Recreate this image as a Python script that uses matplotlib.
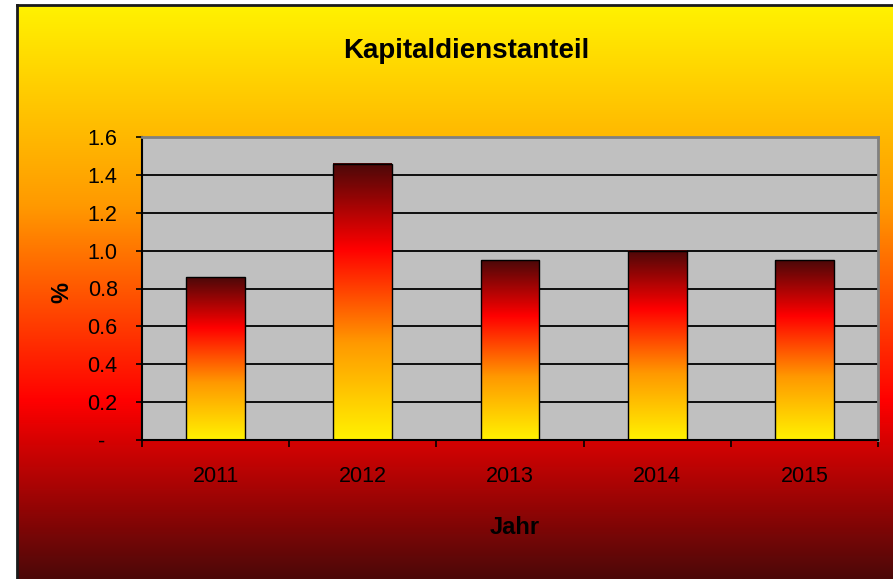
import numpy as np
import matplotlib
matplotlib.use("Agg")
import matplotlib.pyplot as plt
from matplotlib import font_manager
from matplotlib.colors import LinearSegmentedColormap
from matplotlib.ticker import FixedLocator

# ── Datos ────────────────────────────────────────────────────────────────────
years = ["2011", "2012", "2013", "2014", "2015"]
values = [0.86, 1.46, 0.95, 1.00, 0.95]
y_ticks = [0.0, 0.2, 0.4, 0.6, 0.8, 1.0, 1.2, 1.4, 1.6]
y_tick_labels = ["-  ", "0.2", "0.4", "0.6", "0.8", "1.0", "1.2", "1.4", "1.6"]

# ── Fuente (estrecha si existe) ──────────────────────────────────────────────
available = {f.name for f in font_manager.fontManager.ttflist}
if "Liberation Sans Narrow" in available:
    family = "Liberation Sans Narrow"
    fs_title, fs_tick, fs_label = 24, 17, 18
else:
    family = "Liberation Sans"
    fs_title, fs_tick, fs_label = 20, 15.5, 17
plt.rcParams["font.family"] = [family, "DejaVu Sans"]

# gradiente "fuego": amarillo -> naranja -> rojo -> rojo oscuro
fire = LinearSegmentedColormap.from_list(
    "fire",
    [(0.0, "#FFF200"), (0.35, "#FF9900"), (0.69, "#FF0000"), (1.0, "#4C0808")],
)

W, H = 893, 579
fig = plt.figure(figsize=(W / 100, H / 100), dpi=100, facecolor="white")

# ── Fondo del gráfico ────────────────────────────────────────────────────────
bg = fig.add_axes([17 / W, 0, 1 - 17 / W, (H - 5) / H], zorder=0)
grad = np.linspace(0, 1, 256).reshape(-1, 1)
bg.imshow(grad, cmap=fire, aspect="auto", extent=[0, 1, 0, 1], origin="upper")
bg.set_xlim(0, 1)
bg.set_ylim(0, 1)
bg.set_xticks([])
bg.set_yticks([])
for side in ("right", "bottom"):
    bg.spines[side].set_visible(False)
for side in ("left", "top"):
    bg.spines[side].set_color("#1a1a1a")
    bg.spines[side].set_linewidth(2)

# ── Área de trazado ──────────────────────────────────────────────────────────
ax = fig.add_axes([142 / W, (H - 440) / H, (878 - 142) / W, (440 - 137) / H], zorder=1)
ax.set_facecolor("#C0C0C0")

x = np.arange(len(years))
bars = ax.bar(x, values, width=0.4, facecolor="none", edgecolor="black",
              linewidth=1.0, zorder=3)
bar_grad = np.linspace(1, 0, 256).reshape(-1, 1)
for rect in bars:
    x0, w, h = rect.get_x(), rect.get_width(), rect.get_height()
    ax.imshow(bar_grad, cmap=fire, aspect="auto", origin="upper",
              extent=[x0, x0 + w, 0, h], zorder=2)

ax.set_xlim(-0.5, len(years) - 0.5)
ax.set_ylim(0, 1.6)

ax.set_yticks(y_ticks)
ax.set_yticklabels(y_tick_labels)
ax.yaxis.grid(True, color="black", linewidth=1.3)
ax.set_axisbelow(True)

ax.set_xticks(x)
ax.set_xticklabels(years)
ax.xaxis.set_minor_locator(FixedLocator(np.arange(-0.5, len(years), 1.0)))
ax.tick_params(axis="x", which="major", length=0, pad=19, labelsize=fs_tick)
ax.tick_params(axis="x", which="minor", length=5, width=1.2, direction="out")
ax.tick_params(axis="y", length=4.5, width=1.2, direction="out", pad=13,
               labelsize=fs_tick)

for side in ("left", "bottom"):
    ax.spines[side].set_color("black")
    ax.spines[side].set_linewidth(1.5)
for side in ("top", "right"):
    ax.spines[side].set_color("#808080")
    ax.spines[side].set_linewidth(2)

# ── Textos ───────────────────────────────────────────────────────────────────
fig.text(466 / W, 1 - 51 / H, "Kapitaldienstanteil", ha="center", va="center",
         fontsize=fs_title, fontweight="bold")
fig.text(62 / W, 1 - 293 / H, "%", ha="center", va="center", rotation=90,
         fontsize=fs_label, fontweight="bold")
fig.text(515 / W, 1 - 527 / H, "Jahr", ha="center", va="center",
         fontsize=fs_label, fontweight="bold")

fig.savefig("out.png", dpi=100)
